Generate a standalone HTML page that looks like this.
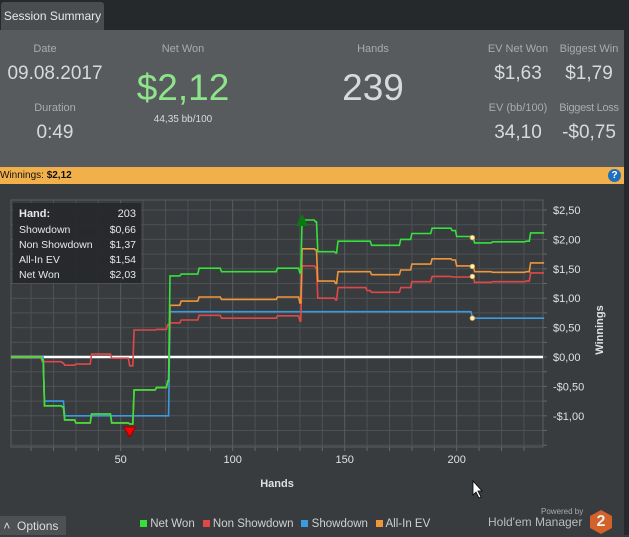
<!DOCTYPE html>
<html><head><meta charset="utf-8"><style>
body{margin:0;width:629px;height:535px;background:#393c3f;font-family:"Liberation Sans",sans-serif;overflow:hidden;position:relative}
.abs{position:absolute}
.lbl{color:#a9abad;font-size:11px;text-align:center;white-space:nowrap}
.val{color:#d8d9da;text-align:center;white-space:nowrap}
.lg{margin-right:8px}
</style></head><body>
<div class="abs" style="left:0;top:0;width:629px;height:30px;background:#26292c"></div>
<div class="abs" style="left:1px;top:2px;width:103px;height:28px;background:#4a4d50;border-radius:3px 3px 0 0;color:#e8e8e8;font-size:12px;line-height:28px;text-align:center">Session Summary</div>
<div class="abs" style="left:0;top:30px;width:624px;height:137px;background:#585b5e"></div>
<div class="abs" style="left:624px;top:30px;width:5px;height:505px;background:#26292c"></div>
<div class="abs lbl" style="left:15px;top:43px;width:60px">Date</div>
<div class="abs val" style="left:0;top:63px;width:110px;font-size:19px">09.08.2017</div>
<div class="abs lbl" style="left:25px;top:102px;width:60px">Duration</div>
<div class="abs val" style="left:25px;top:122px;width:60px;font-size:19px">0:49</div>
<div class="abs lbl" style="left:133px;top:43px;width:100px">Net Won</div>
<div class="abs" style="left:113px;top:67px;width:140px;text-align:center;color:#8ee48b;font-size:37px">$2,12</div>
<div class="abs val" style="left:113px;top:114px;width:140px;font-size:10px">44,35 bb/100</div>
<div class="abs lbl" style="left:333px;top:43px;width:80px">Hands</div>
<div class="abs val" style="left:323px;top:67px;width:100px;font-size:37px">239</div>
<div class="abs lbl" style="left:480px;top:43px;width:76px">EV Net Won</div>
<div class="abs val" style="left:480px;top:63px;width:76px;font-size:19px">$1,63</div>
<div class="abs lbl" style="left:554px;top:43px;width:70px">Biggest Win</div>
<div class="abs val" style="left:554px;top:63px;width:70px;font-size:19px">$1,79</div>
<div class="abs lbl" style="left:480px;top:102px;width:76px">EV (bb/100)</div>
<div class="abs val" style="left:480px;top:122px;width:76px;font-size:19px">34,10</div>
<div class="abs lbl" style="left:554px;top:102px;width:70px;letter-spacing:-0.3px">Biggest Loss</div>
<div class="abs val" style="left:554px;top:122px;width:70px;font-size:19px">-$0,75</div>
<div class="abs" style="left:0;top:167px;width:624px;height:17px;background:#f2b04b;font-size:10px;line-height:17px;color:#111">Winnings: <b>$2,12</b></div>
<div class="abs" style="left:608px;top:169px;width:13px;height:13px;border-radius:50%;background:#1e6fc0;color:#fff;font-size:10px;font-weight:bold;text-align:center;line-height:13px">?</div>
<svg class="abs" style="left:0;top:0" width="629" height="535" id="chart"></svg>
<div class="abs" style="left:0;top:516px;width:66px;height:19px;background:#4e5154;color:#ddd;font-size:12px;line-height:21px">&nbsp;˄&nbsp;&nbsp;Options</div>
<div class="abs" style="left:140px;top:518px;font-size:11.5px;color:#d0d0d0;white-space:nowrap">
<span class="lg"><span style="display:inline-block;width:7px;height:7px;background:#34e23a"></span> Net Won</span><span class="lg"><span style="display:inline-block;width:7px;height:7px;background:#e04848"></span> Non Showdown</span><span class="lg"><span style="display:inline-block;width:7px;height:7px;background:#3a9be0"></span> Showdown</span><span><span style="display:inline-block;width:7px;height:7px;background:#f0953a"></span> All-In EV</span></div>
<div class="abs" style="left:541px;top:507px;font-size:8px;color:#aaa">Powered by</div>
<div class="abs" style="left:488px;top:515px;font-size:12px;color:#bbb">Hold'em Manager</div>
<div class="abs" style="left:590px;top:510px;width:22px;height:24px;background:#d2622a;clip-path:polygon(50% 0,100% 25%,100% 75%,50% 100%,0 75%,0 25%);color:#eee;font-weight:bold;font-size:16px;text-align:center;line-height:24px">2</div>
<script>
const hands=[1,15,16,24,25,30,37,46,54,56,66,71,72,77,85,95,120,130,131,137,138,146,147,160,162,175,180,189,198,200,207,208,216,231,233,239];
const netWon=[0,-0.05,-0.83,-0.85,-1.07,-1.12,-0.97,-1.12,-1.14,-0.56,-0.52,-0.41,1.38,1.41,1.51,1.45,1.51,1.43,2.33,2.30,1.79,1.77,1.97,1.97,1.90,2.0,2.1,2.19,2.15,2.05,2.03,1.94,1.96,1.97,2.11,2.11];
const allInEv=[0,-0.05,-0.83,-0.85,-1.07,-1.12,-0.97,-1.12,-1.14,-0.56,-0.52,-0.41,0.88,0.95,1.02,0.98,1.02,0.92,1.84,1.82,1.29,1.25,1.45,1.45,1.40,1.48,1.58,1.67,1.65,1.55,1.54,1.45,1.44,1.45,1.60,1.60];
const nonShowdown=[0,-0.08,-0.08,-0.1,-0.14,-0.12,0.05,-0.02,-0.15,0.46,0.47,0.55,0.58,0.63,0.71,0.66,0.7,0.61,1.55,1.52,1.0,0.97,1.18,1.13,1.10,1.18,1.28,1.37,1.36,1.36,1.37,1.27,1.28,1.29,1.43,1.43];
const showdown=[0,0,-0.75,-0.75,-1.0,-1.0,-1.0,-1.0,-1.0,-1.0,-1.0,-1.0,0.77,0.77,0.77,0.77,0.77,0.77,0.77,0.77,0.77,0.77,0.77,0.77,0.77,0.77,0.77,0.77,0.77,0.77,0.66,0.66,0.66,0.66,0.66,0.66];
const xTicks=[50,100,150,200];
const yTicks=[-1,-0.5,0,0.5,1,1.5,2,2.5];
const yTickLabels=["-$1,00","-$0,50","$0,00","$0,50","$1,00","$1,50","$2,00","$2,50"];
const tipHand=207;
const tipLabel="203";
const svg=document.getElementById('chart');const NS='http://www.w3.org/2000/svg';
const L=11,R=543,T=200,B=447;
const X=h=>8.7+h*2.24, Y=v=>357-v*58.8;
function mk(t,a,p){const e=document.createElementNS(NS,t);for(const k in a)e.setAttribute(k,a[k]);(p||svg).appendChild(e);return e;}
for(let v=-1.5;v<=2.75;v+=0.25){const y=Y(v);if(y<T||y>B)continue;
 const g=mk('line',{x1:L,x2:R,y1:y,y2:y,stroke:'#4d5154','stroke-width':1});
 
 mk('line',{x1:R,x2:R+4,y1:y,y2:y,stroke:'#666'});}
for(let h=10;h<=240;h+=10){const x=X(h);if(x>R)continue;
 const g=mk('line',{x1:x,x2:x,y1:T,y2:B,stroke:h%50==0?'#585c5f':'#4d5154'});
 
 mk('line',{x1:x,x2:x,y1:B,y2:B+4,stroke:'#666'});}
mk('rect',{x:L,y:T,width:R-L,height:B-T,fill:'none',stroke:'#5a5e61'});
xTicks.forEach(h=>{const t=mk('text',{x:X(h),y:463,fill:'#e0e0e0','font-size':11,'text-anchor':'middle'});t.textContent=h;
 });
yTicks.forEach((v,i)=>{const t=mk('text',{x:553,y:Y(v)+4,fill:'#e0e0e0','font-size':11});t.textContent=yTickLabels[i];
 });
const xt=mk('text',{x:277,y:487,fill:'#e0e0e0','font-size':11,'font-weight':'bold','text-anchor':'middle'});xt.textContent='Hands';

const yt=mk('text',{x:603,y:330,fill:'#e0e0e0','font-size':11,'font-weight':'bold','text-anchor':'middle',transform:'rotate(-90 603 330)'});yt.textContent='Winnings';

const zl=mk('line',{x1:L,x2:R,y1:Y(0),y2:Y(0),stroke:'#fff','stroke-width':2.5});

function series(vals,col,name){let pts=[];
 hands.forEach((h,i)=>{if(i>0){pts.push(X(h-0.6).toFixed(1)+','+Y(vals[i-1]).toFixed(1));}pts.push(X(h).toFixed(1)+','+Y(vals[i]).toFixed(1));});
 const p=mk('polyline',{points:pts.join(' '),fill:'none',stroke:col,'stroke-width':1.6});
 }
series(showdown,'#3a9be0','showdown-line');
series(nonShowdown,'#e04848','non-showdown-line');
series(allInEv,'#f0953a','all-in-ev-line');
series(netWon,'#34e23a','net-won-line');
let mi=netWon.indexOf(Math.max(...netWon)),ni=netWon.indexOf(Math.min(...netWon));
const hx=X(hands[mi]),hy=Y(netWon[mi]);
const up=mk('polygon',{points:`${hx-6},${hy+6} ${hx+6},${hy+6} ${hx},${hy-6}`,fill:'#0a7a10'});

const lx=X(hands[ni]),ly=Y(netWon[ni]);
const dn=mk('polygon',{points:`${lx-6},${ly+3} ${lx+6},${ly+3} ${lx},${ly+13}`,fill:'#f00',stroke:'#900'});

const ti=hands.indexOf(tipHand);
[netWon,allInEv,nonShowdown,showdown].forEach(s=>{const c=mk('circle',{cx:X(tipHand),cy:Y(s[ti]),r:2.3,fill:'#fff2c0',stroke:'#e0a040','stroke-width':0.8});
 });
const tg=mk('g',{});
mk('rect',{x:13,y:203,width:128,height:80,fill:'#26282a',opacity:0.92},tg);
const fmt=v=>'$'+v.toFixed(2).replace('.',',');
const rows=[['Hand:',tipLabel],['Showdown',fmt(showdown[ti])],['Non Showdown',fmt(nonShowdown[ti])],['All-In EV',fmt(allInEv[ti])],['Net Won',fmt(netWon[ti])]];
rows.forEach((r,i)=>{const y=i==0?217:233+(i-1)*15;const fs=i==0?11:10.5;
 const a=mk('text',{x:19,y:y,fill:'#e8e8e8','font-size':fs,'font-weight':i==0?'bold':'normal'},tg);a.textContent=r[0];
 const b=mk('text',{x:136,y:y,fill:'#e8e8e8','font-size':fs,'text-anchor':'end'},tg);b.textContent=r[1];});
const cu=mk('polygon',{points:'473,481 473,495 476,492 479,498 481,497 478,491 482,491',fill:'#fff',stroke:'#000','stroke-width':0.8});

</script>
</body></html>
